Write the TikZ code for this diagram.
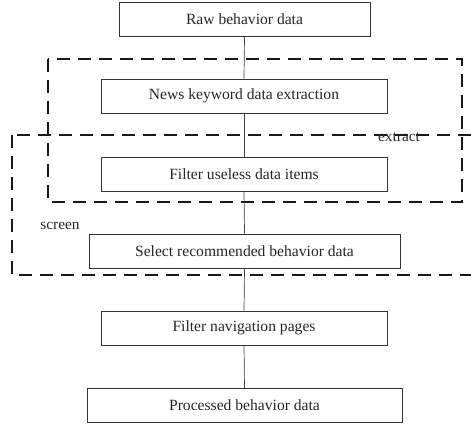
\documentclass[tikz,border=0pt]{standalone}
\usepackage{fontspec}
\setmainfont{Liberation Serif}
\usetikzlibrary{positioning}
\tikzset{
  % Plain process step (thin outline, white fill).
  stepbox/.style={
    rectangle, draw=black!80, line width=0.7pt,
    fill=white, minimum height=34pt,
    inner sep=0pt, align=center,
    font=\fontsize{15.6}{18}\selectfont,
    text=black!85,
  },
  % Dashed grouping frame.
  group/.style={
    draw=black!90, line width=1.5pt,
    dash pattern=on 13pt off 8pt,
  },
  % Group caption.
  group-label/.style={font=\fontsize{15.4}{18}\selectfont, text=black!85},
  % Connector between steps.
  link/.style={draw=black!75, line width=0.7pt},
}
\begin{document}
\begin{tikzpicture}[x=1pt, y=1pt]

  \clip (0, 0) rectangle (471, -425);

  % Dashed frames — drawn first so the steps sit on top.
  \draw[group] (48, -59) rectangle (462, -202);
  \draw[group] (12, -135) rectangle (490, -275);

  % Steps, top to bottom.
  \node[stepbox, minimum width=251pt] (raw)    at (244.5, -19.5) {Raw behavior data};
  \node[stepbox, minimum width=286pt] (news)   at (244,   -96)   {News keyword data extraction};
  \node[stepbox, minimum width=286pt] (useless) at (244,  -174)  {Filter useless data items};
  \node[stepbox, minimum width=311pt] (select) at (244.5, -251)  {Select recommended behavior data};
  \node[stepbox, minimum width=286pt] (nav)    at (244,   -328)  {Filter navigation pages};
  \node[stepbox, minimum width=315pt] (proc)   at (244.5, -405.5) {Processed behavior data};

  % Frame captions.
  \node[group-label] (extract) at (399, -137) {extract};
  \node[group-label] (screen)  at (60,  -226) {screen};

  % Connectors.
  \draw[link] (raw.south)     -- (news.north);
  \draw[link] (news.south)    -- (useless.north);
  \draw[link] (useless.south) -- (select.north);
  \draw[link] (select.south)  -- (nav.north);
  \draw[link] (nav.south)     -- (proc.north);

\end{tikzpicture}
\end{document}
